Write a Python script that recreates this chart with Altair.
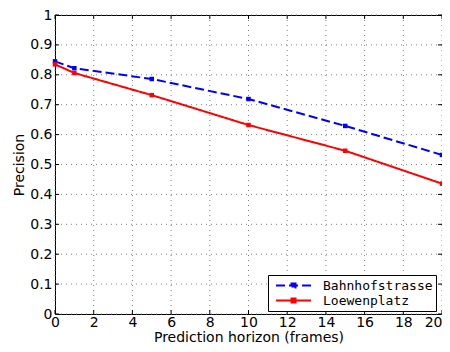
import altair as alt
import pandas as pd

horizon = [0, 1, 5, 10, 15, 20]
bahnhofstrasse = [0.845, 0.822, 0.786, 0.719, 0.629, 0.532]
loewenplatz = [0.835, 0.806, 0.732, 0.632, 0.546, 0.436]
series_names = ["Bahnhofstrasse", "Loewenplatz"]
x_ticks = list(range(0, 21, 2))
y_ticks = [round(i / 10, 1) for i in range(11)]

W, H = 387, 299
FONT = "DejaVu Sans"

df = pd.DataFrame(
    {
        "h": horizon * 2,
        "p": bahnhofstrasse + loewenplatz,
        "s": [series_names[0]] * len(horizon) + [series_names[1]] * len(horizon),
    }
)
xt = pd.DataFrame({"v": x_ticks})
yt = pd.DataFrame({"v": y_ticks})

xs = alt.Scale(domain=[0, 20], nice=False, zero=False)
ys = alt.Scale(domain=[0, 1], nice=False, zero=False)

x_axis = alt.Axis(
    values=x_ticks,
    title="Prediction horizon (frames)",
    grid=False,
    ticks=False,
    domain=False,
    labelFlush=False,
    labelOverlap=False,
    labelPadding=1,
    labelAlign=alt.expr("datum.value == 20 ? 'right' : 'center'"),
    titleBaseline="alphabetic",
    titleY=27,
)
y_axis = alt.Axis(
    values=y_ticks,
    format=".1~f",
    title="Precision",
    grid=False,
    ticks=False,
    domain=False,
    labelFlush=False,
    labelOverlap=False,
    labelPadding=3,
    titleBaseline="alphabetic",
    titleX=-32,
)

grid_x = alt.Chart(xt).mark_rule(color="#808080", strokeDash=[1, 4], strokeWidth=1).encode(
    x=alt.X("v:Q", scale=xs, axis=x_axis)
)
grid_y = alt.Chart(yt).mark_rule(color="#808080", strokeDash=[1, 4], strokeWidth=1).encode(
    y=alt.Y("v:Q", scale=ys, axis=y_axis)
)

# legend symbol: line with a small square marker in the middle
legend_symbol = "M-0.38,0L5,0M2,-0.31h0.62v0.62h-0.62Z"
legend_cfg = alt.Legend(
    title=None,
    orient="none",
    legendX=213,
    legendY=260,
    symbolType=legend_symbol,
    symbolStrokeWidth=2,
    symbolSize=169,
    symbolFillColor="transparent",
    labelFont="DejaVu Sans Mono",
    labelFontSize=13,
    labelColor="black",
    labelOffset=37,
    labelExpr="datum.label + '\u00a0'",
    strokeColor="black",
    fillColor="white",
    padding=3,
    rowPadding=0,
    cornerRadius=0,
)
color = alt.Color(
    "s:N",
    scale=alt.Scale(domain=series_names, range=["#0000ff", "#ff0000"]),
    legend=legend_cfg,
)
dash = alt.StrokeDash(
    "s:N",
    scale=alt.Scale(domain=series_names, range=[[9, 4], [1, 0]]),
    legend=legend_cfg,
)

lines = alt.Chart(df).mark_line(
    strokeWidth=2, point=alt.OverlayMarkDef(shape="square", size=20, filled=True)
).encode(
    x=alt.X("h:Q", scale=xs, axis=x_axis),
    y=alt.Y("p:Q", scale=ys, axis=y_axis),
    color=color,
    strokeDash=dash,
)

tick_len = 4
bt = alt.Chart(xt).mark_rule(color="black").encode(
    x=alt.X("v:Q", scale=xs, axis=x_axis), y=alt.value(H), y2=alt.value(H - tick_len)
)
tt = alt.Chart(xt).mark_rule(color="black").encode(
    x=alt.X("v:Q", scale=xs, axis=x_axis), y=alt.value(0), y2=alt.value(tick_len)
)
lt = alt.Chart(yt).mark_rule(color="black").encode(
    y=alt.Y("v:Q", scale=ys, axis=y_axis), x=alt.value(0), x2=alt.value(tick_len)
)
rt = alt.Chart(yt).mark_rule(color="black").encode(
    y=alt.Y("v:Q", scale=ys, axis=y_axis), x=alt.value(W), x2=alt.value(W - tick_len)
)

chart = (
    alt.layer(grid_x, grid_y, bt, tt, lt, rt, lines)
    .properties(
        width=W,
        height=H,
        autosize=alt.AutoSizeParams(type="none"),
        padding={"left": 47, "top": 7, "right": 0, "bottom": 30},
    )
    .configure_view(stroke="black", strokeWidth=1)
    .configure_axis(
        labelFont=FONT,
        labelFontSize=14,
        labelColor="black",
        titleFont=FONT,
        titleFontSize=14,
        titleFontWeight="normal",
        titleColor="black",
    )
)

chart.save("out.html", embed_options={"renderer": "svg", "actions": False})
